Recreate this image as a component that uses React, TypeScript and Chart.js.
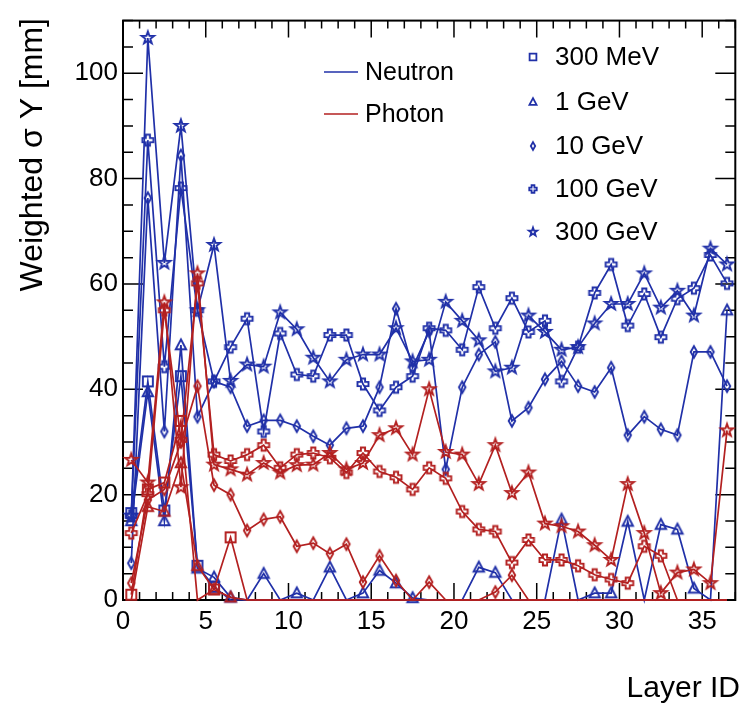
import React, { useEffect, useRef } from "react";
import { Chart, registerables } from "chart.js";

Chart.register(...registerables);

// ---------------- data ----------------
const layers = [0.5, 1.5, 2.5, 3.5, 4.5, 5.5, 6.5, 7.5, 8.5, 9.5, 10.5, 11.5, 12.5, 13.5, 14.5, 15.5, 16.5, 17.5, 18.5, 19.5, 20.5, 21.5, 22.5, 23.5, 24.5, 25.5, 26.5, 27.5, 28.5, 29.5, 30.5, 31.5, 32.5, 33.5, 34.5, 35.5, 36.5];

const xTickLabels = [0, 5, 10, 15, 20, 25, 30, 35];
const yTickLabels = [0, 20, 40, 60, 80, 100];

const energyLabels = ["300 MeV", "1 GeV", "10 GeV", "100 GeV", "300 GeV"];
const particleLabels = ["Neutron", "Photon"];

// Neutron (blue)
const neutron300MeV = [16.5, 41.5, 17, 42.5, 6.5, 2.5, 0, 0, 0, 0, 0, 0, 0, 0, 0, 0, 0, 0, 0, 0, 0, 0, 0, 0, 0, 0, 0, 0, 0, 0, 0, 0, 0, 0, 0, 0, 0];
const neutron1GeV = [15, 39.5, 15, 48.4, 6, 4.3, 0.5, 0, 5, 0, 1.3, 0, 6.2, 0, 1.3, 5.6, 3.2, 0.4, 0, 0, 0, 6.2, 5.2, 0, 0, 0, 15.3, 0, 1.3, 1.3, 14.9, 0, 14.3, 13.4, 2.2, 0, 55];
const neutron10GeV = [7, 76.3, 32, 84.4, 34.8, 41.5, 40.4, 33, 34.1, 34.1, 33, 31.1, 29.4, 32.6, 33, 40.4, 55.3, 44.1, 51, 24.8, 40.4, 46.6, 49, 34, 36.5, 41.9, 45.3, 40.6, 39.5, 44.1, 31.3, 34.8, 32.4, 31.3, 47.1, 47.1, 40.6];
const neutron100GeV = [16, 87.3, 44.3, 78.2, 55, 41.5, 48, 53.4, 32, 50.6, 42.8, 42.5, 50.3, 50.3, 41, 36, 40.4, 42.5, 51.6, 51.2, 47.5, 59.4, 51.6, 57.3, 50.9, 53, 41.5, 48, 58.3, 63.7, 52.1, 58.1, 49.9, 57.2, 59.2, 65.5, 60.1];
const neutron300GeV = [16, 106.7, 64, 90, 55, 67.4, 41.6, 44.7, 44.3, 54.6, 51.4, 46, 41.5, 45.6, 46.6, 46.6, 51.6, 45.3, 45.6, 56.6, 53, 49.3, 43.4, 44.1, 54, 50.9, 47.5, 48, 52.5, 56.2, 56.2, 62, 55.5, 58.7, 54, 66.7, 63.7];

// Photon (red)
const photon300MeV = [1, 21, 22.3, 34, 0, 2, 11.9, 0, 0, 0, 0, 0, 0, 0, 0, 0, 0, 0, 0, 0, 0, 0, 0, 0, 0, 0, 0, 0, 0, 0, 0, 0, 0, 0, 0, 0, 0];
const photon1GeV = [0, 17.7, 16.8, 26, 6.5, 2, 0.5, 0, 0, 0, 0, 0, 0, 0, 0, 0, 0, 0, 0, 0, 0, 0, 0, 0, 0, 0, 0, 0, 0, 0, 0, 0, 0, 0, 0, 0, 0];
const photon10GeV = [3.2, 19, 21, 30, 40.6, 21.8, 20, 13.2, 15.3, 15.8, 10.2, 10.8, 8.8, 10.6, 3.4, 8.4, 3.7, 0, 3.4, 0, 0, 0, 1.5, 4.7, 0, 0, 0, 0, 0, 0, 0, 0, 0, 0, 0, 0, 0];
const photon100GeV = [12.7, 20.1, 55, 30.4, 60.1, 27.6, 26.4, 27.6, 29.4, 25.1, 27.6, 27.9, 27, 24.2, 27.9, 24.4, 23.3, 21, 25.1, 23.1, 16.8, 13.4, 13, 7.1, 11.4, 7.6, 7.6, 6.5, 4.8, 3.9, 3.2, 10.2, 8.4, 0, 0, 0, 0];
const photon300GeV = [26.6, 22.3, 56.5, 21.4, 62, 25.7, 24.8, 23.8, 26, 24.2, 25.6, 25.7, 27.9, 24.8, 26, 31.3, 32.6, 27.6, 40, 28.1, 27.6, 22, 29.4, 20.3, 24.2, 14.5, 14, 13, 10.4, 7.6, 22, 12.7, 1.3, 5.2, 5.8, 3.2, 32.2];

// ---------------- styling ----------------
const BLUE = "#2030a8";
const RED = "#b32020";
const FONT = '"Liberation Sans", Arial, Helvetica, sans-serif';

type Shape = "square" | "triangle" | "diamond" | "cross" | "star";
const shapes: Shape[] = ["square", "triangle", "diamond", "cross", "star"];

function tracePath(ctx: CanvasRenderingContext2D, shape: Shape, cx: number, cy: number, s: number) {
  ctx.beginPath();
  if (shape === "square") {
    ctx.rect(cx - s, cy - s, 2 * s, 2 * s);
  } else if (shape === "triangle") {
    ctx.moveTo(cx, cy - 1.15 * s);
    ctx.lineTo(cx + 1.05 * s, cy + 0.85 * s);
    ctx.lineTo(cx - 1.05 * s, cy + 0.85 * s);
    ctx.closePath();
  } else if (shape === "diamond") {
    ctx.moveTo(cx, cy - 1.15 * s);
    ctx.lineTo(cx + 0.65 * s, cy);
    ctx.lineTo(cx, cy + 1.15 * s);
    ctx.lineTo(cx - 0.65 * s, cy);
    ctx.closePath();
  } else if (shape === "cross") {
    const a = 0.42 * s;
    const r = 1.1 * s;
    const pts = [
      [-a, -r], [a, -r], [a, -a], [r, -a], [r, a], [a, a],
      [a, r], [-a, r], [-a, a], [-r, a], [-r, -a], [-a, -a],
    ];
    pts.forEach((p, i) => (i === 0 ? ctx.moveTo(cx + p[0], cy + p[1]) : ctx.lineTo(cx + p[0], cy + p[1])));
    ctx.closePath();
  } else {
    const R = 1.3 * s;
    const r = 0.52 * s;
    for (let i = 0; i < 10; i++) {
      const ang = -Math.PI / 2 + (i * Math.PI) / 5;
      const rr = i % 2 === 0 ? R : r;
      const px = cx + rr * Math.cos(ang);
      const py = cy + rr * Math.sin(ang);
      if (i === 0) ctx.moveTo(px, py);
      else ctx.lineTo(px, py);
    }
    ctx.closePath();
  }
}

function makeMarker(shape: Shape, color: string, s: number, lw: number): HTMLCanvasElement {
  const size = Math.ceil(2.8 * s + lw * 2 + 2);
  const c = document.createElement("canvas");
  c.width = size;
  c.height = size;
  const ctx = c.getContext("2d")!;
  ctx.strokeStyle = color;
  ctx.lineWidth = lw;
  ctx.lineJoin = "miter";
  tracePath(ctx, shape, size / 2, size / 2, s);
  ctx.stroke();
  return c;
}

const framePlugin = {
  id: "rootFrame",
  beforeDatasetsDraw(chart: any) {
    const { ctx, chartArea, scales } = chart;
    const { left, right, top, bottom } = chartArea;
    const xs = scales.x;
    const ys = scales.y;
    ctx.save();
    ctx.strokeStyle = "#000";
    ctx.lineWidth = 1.5;
    ctx.beginPath();
    for (let v = 0; v <= 37; v++) {
      const px = xs.getPixelForValue(v);
      const len = v % 5 === 0 ? 17 : 8;
      ctx.moveTo(px, bottom);
      ctx.lineTo(px, bottom - len);
      ctx.moveTo(px, top);
      ctx.lineTo(px, top + len);
    }
    for (let v = 0; v <= 110; v += 5) {
      const py = ys.getPixelForValue(v);
      const len = v % 20 === 0 ? 20 : 10;
      ctx.moveTo(left, py);
      ctx.lineTo(left + len, py);
      ctx.moveTo(right, py);
      ctx.lineTo(right - len, py);
    }
    ctx.stroke();
    ctx.lineWidth = 2;
    ctx.strokeRect(left, top, right - left, bottom - top);
    ctx.restore();
  },
};

const annotationPlugin = {
  id: "rootAnnotations",
  afterDraw(chart: any) {
    const { ctx } = chart;
    ctx.save();
    ctx.fillStyle = "#000";
    // axis titles
    ctx.font = `30px ${FONT}`;
    ctx.textAlign = "right";
    ctx.textBaseline = "alphabetic";
    ctx.fillText("Layer ID", 740, 697);

    ctx.save();
    ctx.translate(42, 18);
    ctx.rotate(-Math.PI / 2);
    ctx.font = `32px ${FONT}`;
    ctx.textAlign = "right";
    ctx.textBaseline = "alphabetic";
    ctx.fillText("Weighted \u03c3 Y [mm]", 0, 0);
    ctx.restore();

    // particle legend
    const pColors = [BLUE, RED];
    const pY = [72, 114];
    ctx.font = `25px ${FONT}`;
    ctx.textAlign = "left";
    ctx.textBaseline = "middle";
    particleLabels.forEach((lab, i) => {
      ctx.strokeStyle = pColors[i];
      ctx.lineWidth = 1.5;
      ctx.beginPath();
      ctx.moveTo(324, pY[i]);
      ctx.lineTo(358, pY[i]);
      ctx.stroke();
      ctx.fillStyle = "#000";
      ctx.fillText(lab, 365, pY[i] + 1);
    });

    // energy legend
    const eY = [57, 102, 146, 189, 232];
    ctx.font = `26px ${FONT}`;
    energyLabels.forEach((lab, i) => {
      ctx.strokeStyle = BLUE;
      ctx.lineWidth = 1.8;
      tracePath(ctx, shapes[i], 533, eY[i], 3.4);
      ctx.stroke();
      ctx.fillStyle = "#000";
      ctx.fillText(lab, 555, eY[i] + 1);
    });
    ctx.restore();
  },
};

function series(values: number[]) {
  return layers.map((x, i) => ({ x, y: values[i] }));
}

function makeDataset(label: string, vals: number[], color: string, shape: Shape) {
  return {
    label,
    data: series(vals),
    borderColor: color,
    backgroundColor: color,
    borderWidth: 1.7,
    pointStyle: makeMarker(shape, color, 5, 1.9),
    // markers sitting exactly on zero are hidden (as in the reference)
    pointRadius: (c: any) => (c.raw && c.raw.y === 0 ? 0 : 6),
    fill: false,
    tension: 0,
    clip: false,
  };
}

export default function App() {
  const canvasRef = useRef<HTMLCanvasElement | null>(null);

  useEffect(() => {
    if (!canvasRef.current) return;
    const neutron = [neutron300MeV, neutron1GeV, neutron10GeV, neutron100GeV, neutron300GeV];
    const photon = [photon300MeV, photon1GeV, photon10GeV, photon100GeV, photon300GeV];
    const datasets: any[] = [];
    photon.forEach((vals, i) => datasets.push(makeDataset(`Photon ${energyLabels[i]}`, vals, RED, shapes[i])));
    neutron.forEach((vals, i) => datasets.push(makeDataset(`Neutron ${energyLabels[i]}`, vals, BLUE, shapes[i])));

    const chart = new Chart(canvasRef.current, {
      type: "line",
      data: { datasets },
      options: {
        animation: false,
        responsive: true,
        maintainAspectRatio: false,
        devicePixelRatio: 1,
        layout: { padding: { top: 10, right: 3, left: 0, bottom: 0 } },
        plugins: {
          legend: { display: false },
          tooltip: { enabled: false },
          title: { display: false },
        },
        scales: {
          x: {
            type: "linear",
            min: 0,
            max: 37,
            afterBuildTicks: (s: any) => {
              s.ticks = xTickLabels.map((v) => ({ value: v }));
            },
            afterFit: (s: any) => {
              s.height = 103;
            },
            grid: { display: false, drawTicks: false },
            border: { display: false },
            ticks: {
              font: { size: 26, family: FONT },
              color: "#000",
              padding: 6,
              maxRotation: 0,
              autoSkip: false,
            },
          },
          y: {
            type: "linear",
            min: 0,
            max: 110,
            afterBuildTicks: (s: any) => {
              s.ticks = yTickLabels.map((v) => ({ value: v }));
            },
            afterFit: (s: any) => {
              s.width = 123;
            },
            grid: { display: false, drawTicks: false },
            border: { display: false },
            ticks: {
              font: { size: 26, family: FONT },
              color: "#000",
              padding: 5,
              autoSkip: false,
            },
          },
        },
      } as any,
      plugins: [framePlugin, annotationPlugin],
    });
    return () => chart.destroy();
  }, []);

  return (
    <div style={{ position: "fixed", left: 0, top: 0, width: 743, height: 703, background: "#fff" }}>
      <canvas ref={canvasRef} />
    </div>
  );
}
